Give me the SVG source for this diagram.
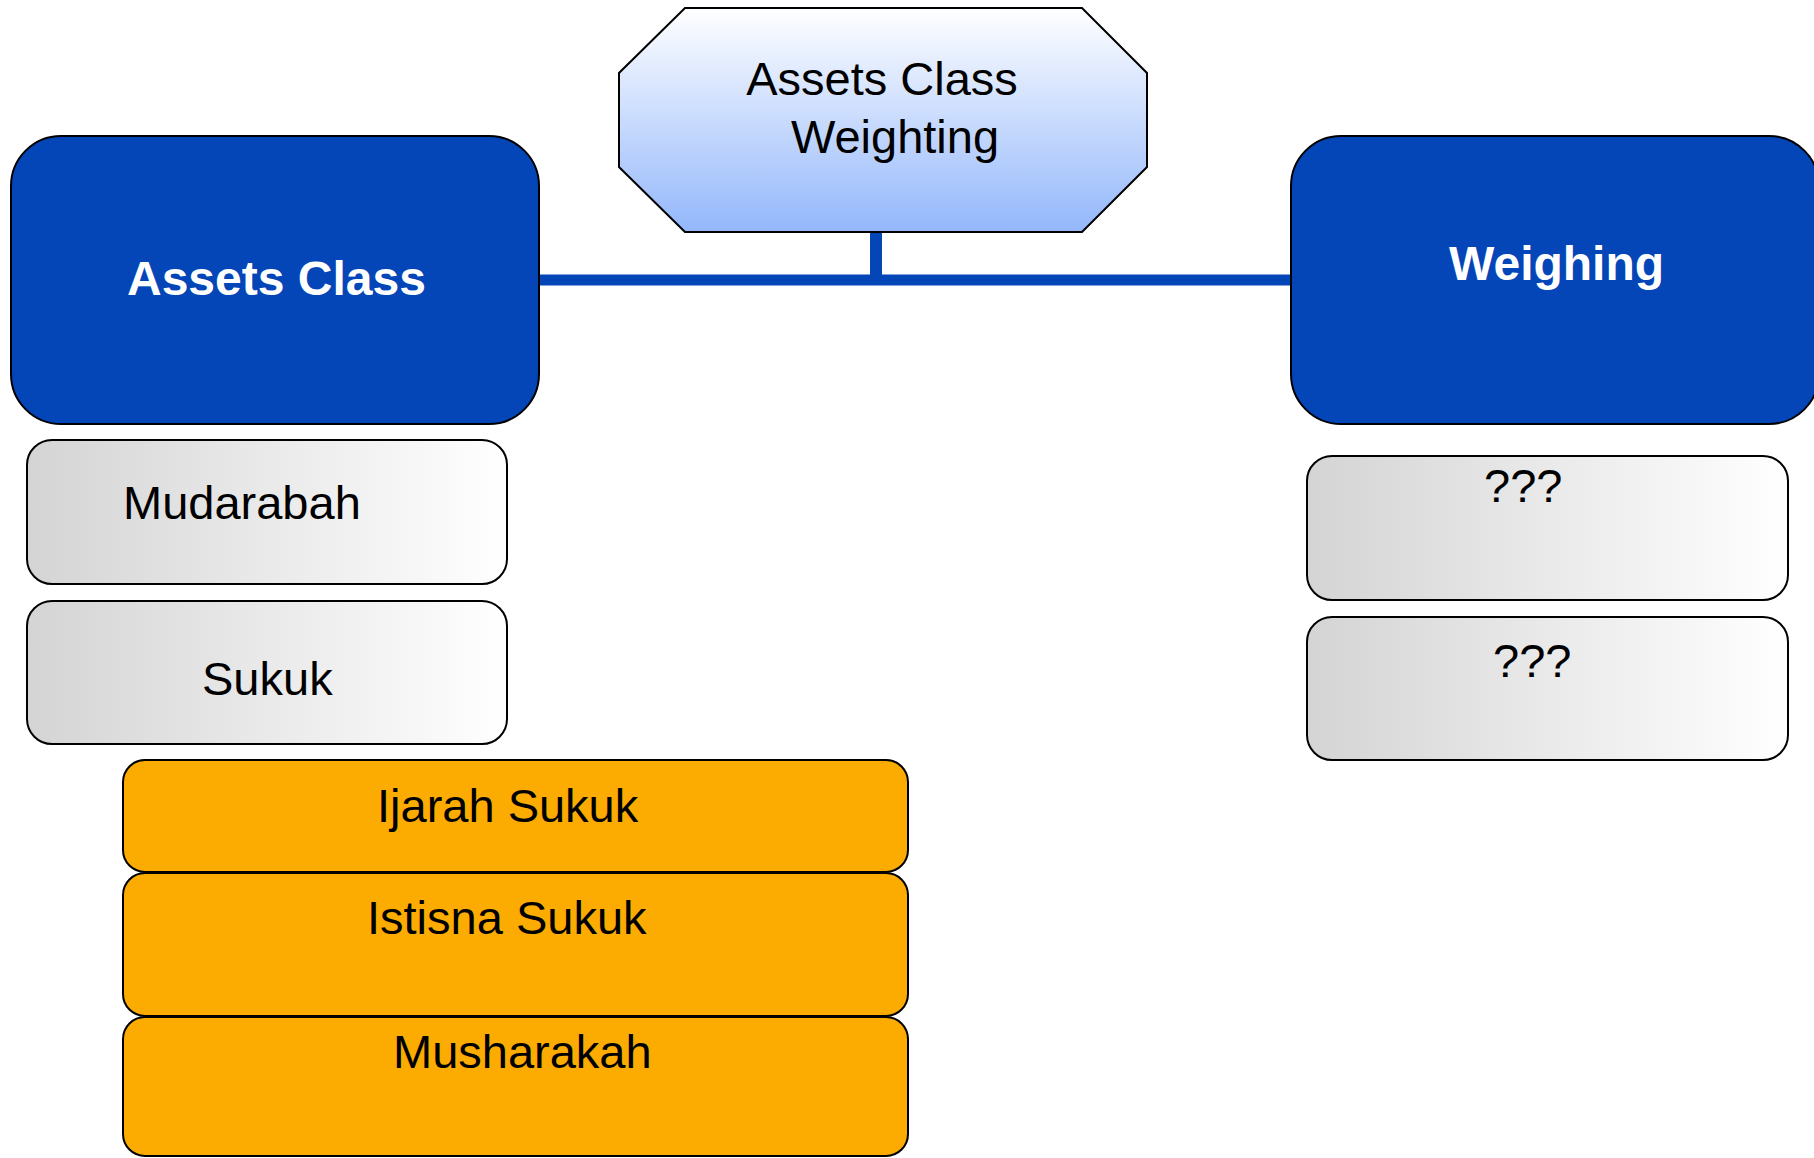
<svg xmlns="http://www.w3.org/2000/svg" width="1814" height="1158" viewBox="0 0 1814 1158">
<style>
.t{font-family:"Liberation Sans",Arial,sans-serif;font-size:47px;fill:#000}
.tb{font-family:"Liberation Sans",Arial,sans-serif;font-size:48px;font-weight:bold;fill:#fff}
.blue{fill:#0445b7;stroke:#000;stroke-width:2}
.gray{fill:url(#gg);stroke:#000;stroke-width:2}
.orange{fill:#fcab00;stroke:#000;stroke-width:2}
.conn{stroke:#0445b7;fill:none}
</style>
<defs>
<linearGradient id="gg" x1="0" y1="0" x2="1" y2="0">
<stop offset="0" stop-color="#d4d4d4"/>
<stop offset="1" stop-color="#ffffff"/>
</linearGradient>
<linearGradient id="bg" x1="0" y1="0" x2="0" y2="1">
<stop offset="0" stop-color="#ffffff"/>
<stop offset="1" stop-color="#93b7fb"/>
</linearGradient>
</defs>
<rect width="1814" height="1158" fill="#fff"/>
<g id="connectors">
<line class="conn" x1="539" y1="280" x2="1291" y2="280" stroke-width="11"/>
<line class="conn" x1="876" y1="232" x2="876" y2="280" stroke-width="12"/>
</g>
<g id="weighting-hub">
<polygon points="685,8 1082,8 1147,73 1147,167 1082,232 685,232 619,167 619,73" fill="url(#bg)" stroke="#000" stroke-width="2"/>
<text class="t" x="882" y="95" text-anchor="middle">Assets Class</text>
<text class="t" x="895" y="153" text-anchor="middle">Weighting</text>
</g>
<g id="assets-class">
<rect class="blue" x="11" y="136" width="528" height="288" rx="50" ry="50"/>
<text class="tb" x="127" y="295">Assets Class</text>
</g>
<g id="weighing">
<rect class="blue" x="1291" y="136" width="528" height="288" rx="50" ry="50"/>
<text class="tb" x="1449" y="280">Weighing</text>
</g>
<g id="mudarabah">
<rect class="gray" x="27" y="440" width="480" height="144" rx="25" ry="25"/>
<text class="t" x="123" y="519">Mudarabah</text>
</g>
<g id="sukuk">
<rect class="gray" x="27" y="601" width="480" height="143" rx="25" ry="25"/>
<text class="t" x="202" y="695">Sukuk</text>
</g>
<g id="weight-1">
<rect class="gray" x="1307" y="456" width="481" height="144" rx="25" ry="25"/>
<text class="t" x="1484" y="502">???</text>
</g>
<g id="weight-2">
<rect class="gray" x="1307" y="617" width="481" height="143" rx="25" ry="25"/>
<text class="t" x="1493" y="677">???</text>
</g>
<g id="ijarah-sukuk">
<rect class="orange" x="123" y="760" width="785" height="112" rx="22" ry="22"/>
<text class="t" x="377" y="822">Ijarah Sukuk</text>
</g>
<g id="istisna-sukuk">
<rect class="orange" x="123" y="873" width="785" height="143" rx="22" ry="22"/>
<text class="t" x="367" y="934">Istisna Sukuk</text>
</g>
<g id="musharakah">
<rect class="orange" x="123" y="1017" width="785" height="139" rx="22" ry="22"/>
<text class="t" x="393" y="1068">Musharakah</text>
</g>
</svg>
